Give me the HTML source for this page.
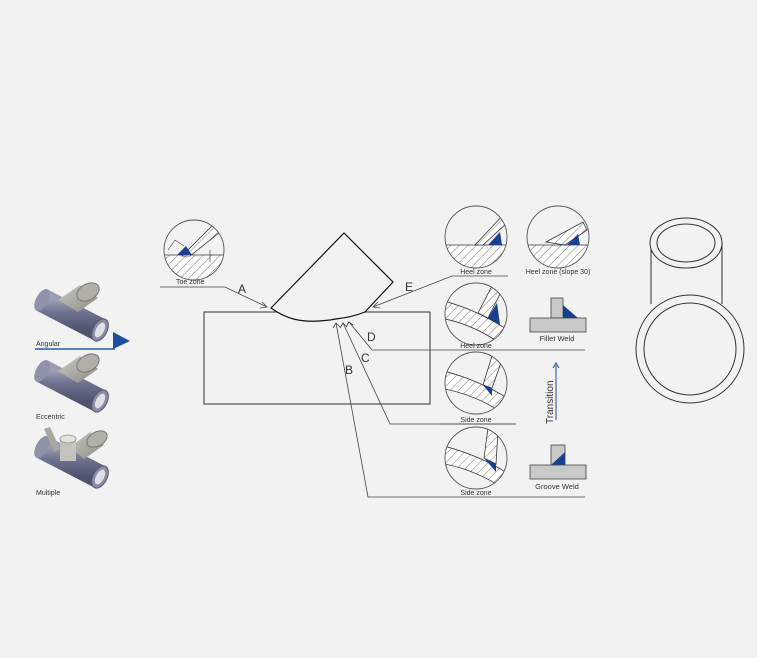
<!DOCTYPE html>
<html><head><meta charset="utf-8"><style>
html,body{margin:0;padding:0;background:#f2f2f2;}
svg{display:block}
text{font-family:"Liberation Sans",sans-serif;fill:#333;}
</style></head><body>
<svg width="757" height="658" viewBox="0 0 757 658" xmlns="http://www.w3.org/2000/svg">
<defs>
<pattern id="h" width="6" height="6" patternUnits="userSpaceOnUse" patternTransform="rotate(45)">
<rect width="6" height="6" fill="#fff"/><line x1="0" y1="0" x2="0" y2="6" stroke="#555" stroke-width="0.8"/></pattern>
<linearGradient id="tube" x1="0" y1="0" x2="0" y2="1">
<stop offset="0" stop-color="#9a9db0"/><stop offset="0.4" stop-color="#6f7390"/><stop offset="1" stop-color="#4f5370"/></linearGradient>
<linearGradient id="br" x1="0" y1="0" x2="1" y2="1">
<stop offset="0" stop-color="#c9c9c2"/><stop offset="1" stop-color="#8c8c84"/></linearGradient>
<clipPath id="c1"><circle cx="194" cy="250" r="30"/></clipPath>
<clipPath id="c2"><circle cx="476" cy="237" r="31"/></clipPath>
<clipPath id="c3"><circle cx="558" cy="237" r="31"/></clipPath>
<clipPath id="c4"><circle cx="476" cy="314" r="31"/></clipPath>
<clipPath id="c5"><circle cx="476" cy="383" r="31"/></clipPath>
<clipPath id="c6"><circle cx="476" cy="458" r="31"/></clipPath>
<g id="pipe">
<line x1="42" y1="300" x2="100" y2="330" stroke="url(#tube)" stroke-width="24" stroke-linecap="butt"/>
<ellipse cx="100" cy="330" rx="7" ry="12" transform="rotate(28 100 330)" fill="#8a8da2" stroke="#555a70" stroke-width="1"/>
<ellipse cx="100" cy="330" rx="4" ry="8" transform="rotate(28 100 330)" fill="#dfe0e6"/>
<ellipse cx="42" cy="300" rx="6" ry="12" transform="rotate(28 42 300)" fill="#8f92a8"/>
</g>
</defs>

<!-- left pipes -->
<use href="#pipe"/>
<polygon points="58,300 80,285 98,298 78,312" fill="url(#br)"/>
<ellipse cx="88" cy="292" rx="12" ry="8" transform="rotate(-30 88 292)" fill="#b0b0a8" stroke="#777" stroke-width="1"/>
<line x1="35" y1="349" x2="115" y2="349" stroke="#1f5fae" stroke-width="1.5"/>
<polygon points="113,332 130,341 113,349" fill="#1a4f9e"/>
<text x="36" y="346" font-size="7">Angular</text>

<g transform="translate(0,71)"><use href="#pipe"/>
<polygon points="58,300 80,285 98,298 78,312" fill="url(#br)"/>
<ellipse cx="88" cy="292" rx="12" ry="8" transform="rotate(-30 88 292)" fill="#b0b0a8" stroke="#777" stroke-width="1"/></g>
<text x="36" y="419" font-size="7">Eccentric</text>

<g transform="translate(0,147)"><use href="#pipe"/>
<polygon points="70,300 90,285 104,298 84,312" fill="url(#br)"/>
<ellipse cx="97" cy="292" rx="11" ry="7" transform="rotate(-30 97 292)" fill="#b0b0a8" stroke="#777" stroke-width="1"/>
<rect x="60" y="292" width="16" height="22" fill="#c4c4bc"/>
<ellipse cx="68" cy="292" rx="8" ry="4" fill="#e4e4de" stroke="#888" stroke-width="0.8"/>
<polygon points="44,282 50,280 60,302 54,305" fill="#a8a8a0"/>
</g>
<text x="36" y="495" font-size="7">Multiple</text>

<!-- main drawing -->
<rect x="204" y="312" width="226" height="92" fill="none" stroke="#333" stroke-width="1"/>
<path d="M271,308 L344,233 L393,282 L365,312 C350,318 340,318 330,320 C300,324 285,318 271,308 Z" fill="#f2f2f2" stroke="#111" stroke-width="1.2"/>

<g stroke="#444" stroke-width="0.8" fill="none">
<polyline points="160,287 225,287 267,307"/>
<polyline points="262,302 267,307 260,308"/>
<polyline points="508,276 452,276 373,307"/>
<polyline points="378,302 373,307 380,308"/>
<polyline points="585,350 372,350 349,322"/>
<polyline points="346,327 349,322 353,325"/>
<polyline points="516,424 390,424 343,323"/>
<polyline points="340,328 343,323 347,327"/>
<polyline points="585,497 368,497 336,323"/>
<polyline points="333,328 336,323 340,327"/>
<line x1="440" y1="424" x2="516" y2="424"/>
</g>
<text x="238" y="293" font-size="12">A</text>
<text x="405" y="291" font-size="12">E</text>
<text x="367" y="341" font-size="12">D</text>
<text x="361" y="362" font-size="12">C</text>
<text x="345" y="374" font-size="12">B</text>

<!-- toe circle -->
<g clip-path="url(#c1)">
<rect x="160" y="255" width="70" height="30" fill="url(#h)"/>
<line x1="160" y1="255" x2="230" y2="255" stroke="#333" stroke-width="0.8"/>
<polygon points="182,256 212,226 220,232 190,256" fill="url(#h)" stroke="#333" stroke-width="0.8"/>
<polygon points="177,255 186,246 192,255" fill="#1a3f8f"/>
<polyline points="168,250 175,240 184,246" fill="none" stroke="#333" stroke-width="0.6"/>
<line x1="210" y1="250" x2="210" y2="262" stroke="#333" stroke-width="0.6"/>
</g>
<circle cx="194" cy="250" r="30" fill="none" stroke="#555" stroke-width="0.9"/>
<text x="176" y="284" font-size="7">Toe zone</text>

<!-- heel circle 1 -->
<g clip-path="url(#c2)">
<rect x="444" y="245" width="66" height="30" fill="url(#h)"/>
<line x1="444" y1="245" x2="510" y2="245" stroke="#333" stroke-width="0.8"/>
<polygon points="475,245 503,215 508,222 483,245" fill="url(#h)" stroke="#333" stroke-width="0.8"/>
<polygon points="488,245 500,232 502,245" fill="#1a3f8f"/>
</g>
<circle cx="476" cy="237" r="31" fill="none" stroke="#555" stroke-width="0.9"/>
<text x="476" y="274" font-size="7" text-anchor="middle">Heel zone</text>

<!-- heel slope -->
<g clip-path="url(#c3)">
<rect x="526" y="245" width="66" height="30" fill="url(#h)"/>
<line x1="526" y1="245" x2="592" y2="245" stroke="#333" stroke-width="0.8"/>
<polygon points="546,242 583,222 587,230 565,245" fill="url(#h)" stroke="#333" stroke-width="0.8"/>
<polygon points="567,245 578,234 580,245" fill="#1a3f8f"/>
</g>
<circle cx="558" cy="237" r="31" fill="none" stroke="#555" stroke-width="0.9"/>
<text x="558" y="274" font-size="7" text-anchor="middle">Heel zone (slope 30)</text>

<!-- heel 2 -->
<g clip-path="url(#c4)">
<path d="M440,300 Q480,310 515,335 L515,355 Q480,325 440,318 Z" fill="url(#h)" stroke="#333" stroke-width="0.8"/>
<polygon points="478,313 494,282 502,290 488,318" fill="url(#h)" stroke="#333" stroke-width="0.8"/>
<polygon points="488,318 497,303 500,325" fill="#1a3f8f"/>
</g>
<circle cx="476" cy="314" r="31" fill="none" stroke="#555" stroke-width="0.9"/>
<text x="476" y="348" font-size="7" text-anchor="middle">Heel zone</text>

<!-- side 1 -->
<g clip-path="url(#c5)">
<path d="M440,370 Q480,380 510,400 L505,415 Q478,395 440,388 Z" fill="url(#h)" stroke="#333" stroke-width="0.8"/>
<polygon points="483,385 492,356 502,360 492,388" fill="url(#h)" stroke="#333" stroke-width="0.8"/>
<polygon points="483,385 492,388 492,396" fill="#1a3f8f"/>
</g>
<circle cx="476" cy="383" r="31" fill="none" stroke="#555" stroke-width="0.9"/>
<text x="476" y="422" font-size="7" text-anchor="middle">Side zone</text>

<!-- side 2 -->
<g clip-path="url(#c6)">
<path d="M440,445 Q480,455 510,475 L505,490 Q478,470 440,463 Z" fill="url(#h)" stroke="#333" stroke-width="0.8"/>
<polygon points="484,458 488,428 498,430 496,464" fill="url(#h)" stroke="#333" stroke-width="0.8"/>
<polygon points="484,458 496,464 496,472" fill="#1a3f8f"/>
</g>
<circle cx="476" cy="458" r="31" fill="none" stroke="#555" stroke-width="0.9"/>
<text x="476" y="495" font-size="7" text-anchor="middle">Side zone</text>

<!-- fillet -->
<rect x="551" y="298" width="12" height="20" fill="#c8c8c8" stroke="#444" stroke-width="0.8"/>
<rect x="530" y="318" width="56" height="14" fill="#c8c8c8" stroke="#444" stroke-width="0.8"/>
<polygon points="563,305 563,318 578,318" fill="#1a3f8f"/>
<text x="557" y="341" font-size="7.5" text-anchor="middle">Fillet Weld</text>

<!-- groove -->
<rect x="551" y="445" width="14" height="20" fill="#c8c8c8" stroke="#444" stroke-width="0.8"/>
<polygon points="551,465 565,452 565,465" fill="#1a3f8f"/>
<rect x="530" y="465" width="56" height="14" fill="#c8c8c8" stroke="#444" stroke-width="0.8"/>
<text x="557" y="489" font-size="7.5" text-anchor="middle">Groove Weld</text>

<!-- transition -->
<line x1="556" y1="365" x2="556" y2="420" stroke="#1f4fa0" stroke-width="1"/>
<polyline points="553,368 556,363 559,368" fill="none" stroke="#1f4fa0" stroke-width="1"/>
<text transform="translate(553,424) rotate(-90)" font-size="10" fill="#222">Transition</text>

<!-- right ring -->
<g fill="none" stroke="#333" stroke-width="1">
<line x1="651" y1="243" x2="651" y2="304"/>
<line x1="722" y1="243" x2="722" y2="304"/>
<circle cx="690" cy="349" r="54" fill="#f2f2f2"/>
<circle cx="690" cy="349" r="46"/>
<ellipse cx="686" cy="243" rx="36" ry="25" fill="#f2f2f2"/>
<ellipse cx="686" cy="243" rx="29" ry="19"/>
</g>
</svg>
</body></html>
